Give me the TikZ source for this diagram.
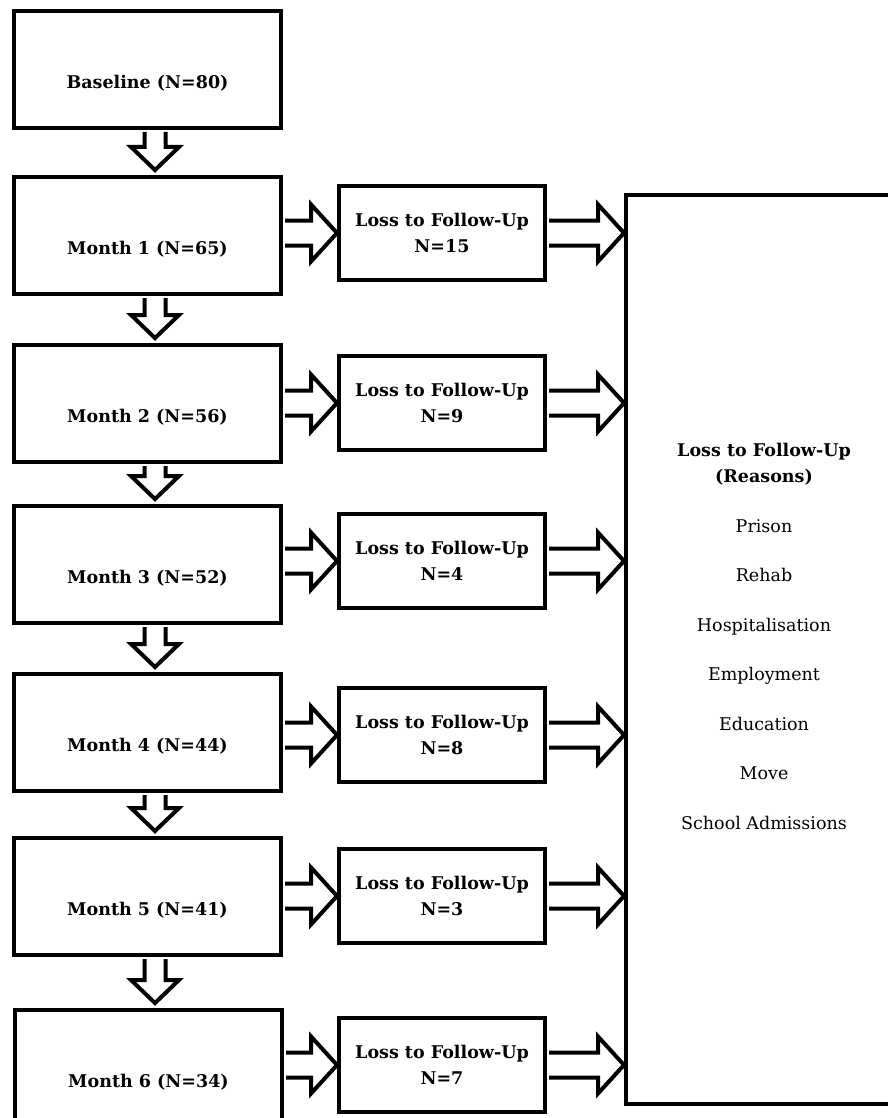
\documentclass[tikz,border=0pt]{standalone}
\usepackage{fontspec}
\setmainfont{DejaVu Serif}
\usetikzlibrary{calc}
\tikzset{
  box/.style={draw, line width=4pt, inner sep=0pt, font=\bfseries\fontsize{17.5}{26}\selectfont},
  monthbox/.style={box, minimum width=267pt, minimum height=117pt, text height=38pt, text depth=0pt},
  lossbox/.style={box, minimum width=206pt, minimum height=94pt, align=center},
  bigbox/.style={draw, line width=4pt, inner sep=0pt, minimum width=276pt, minimum height=909pt, font=\fontsize{17.5}{26}\selectfont},
  blk/.style={draw, line width=4pt, fill=white, line join=miter, miter limit=10},
}
\newcommand\downblock[2]{%
  \draw[blk] let \p1=($(#1.south)+(7.5,0)$), \p2=(#2.north) in
    (\x1-10.5pt,\y1-2pt) -- (\x1-10.5pt,\y2+28pt) -- (\x1-24pt,\y2+28pt) -- (\x1,\y2+5pt)
    -- (\x1+24pt,\y2+28pt) -- (\x1+10.5pt,\y2+28pt) -- (\x1+10.5pt,\y1-2pt);}
\newcommand\rightblock[3]{%
  \draw[blk] let \p1=(#1.east), \p2=(#2.west), \p3=(#3.center) in
    (\x1+2pt,\y3+12.5pt) -- (\x2-26pt,\y3+12.5pt) -- (\x2-26pt,\y3+28.5pt) -- (\x2,\y3)
    -- (\x2-26pt,\y3-28.5pt) -- (\x2-26pt,\y3-12.5pt) -- (\x1+2pt,\y3-12.5pt);}
\begin{document}
\begin{tikzpicture}[x=1pt,y=1pt]
\useasboundingbox (0,0) rectangle (887,-1118);
\fill[white] (0,0) rectangle (887,-1118);

\node[monthbox, anchor=north west] (b0) at (12,-9)   {Baseline (N=80)};
\node[monthbox, anchor=north west] (b1) at (12,-175) {Month 1 (N=65)};
\node[monthbox, anchor=north west] (b2) at (12,-343) {Month 2 (N=56)};
\node[monthbox, anchor=north west] (b3) at (12,-504) {Month 3 (N=52)};
\node[monthbox, anchor=north west] (b4) at (12,-672) {Month 4 (N=44)};
\node[monthbox, anchor=north west] (b5) at (12,-836) {Month 5 (N=41)};
\node[monthbox, anchor=north west] (b6) at (13,-1008) {Month 6 (N=34)};

\node[lossbox, anchor=north west] (l1) at (337,-184)  {Loss to Follow-Up\\N=15};
\node[lossbox, anchor=north west] (l2) at (337,-354)  {Loss to Follow-Up\\N=9};
\node[lossbox, anchor=north west] (l3) at (337,-512)  {Loss to Follow-Up\\N=4};
\node[lossbox, anchor=north west] (l4) at (337,-686)  {Loss to Follow-Up\\N=8};
\node[lossbox, anchor=north west] (l5) at (337,-847)  {Loss to Follow-Up\\N=3};
\node[lossbox, anchor=north west] (l6) at (337,-1016) {Loss to Follow-Up\\N=7};

\node[bigbox, anchor=north west] (big) at (624,-193) {\raisebox{11.5pt}[\height][\depth]{%
  \begin{tabular}{@{}c@{}}
  \textbf{Loss to Follow-Up}\\
  \textbf{(Reasons)}\\[23.5pt]
  Prison\\[23.5pt]
  Rehab\\[23.5pt]
  Hospitalisation\\[23.5pt]
  Employment\\[23.5pt]
  Education\\[23.5pt]
  Move\\[23.5pt]
  School Admissions
  \end{tabular}}};

\downblock{b0}{b1}
\downblock{b1}{b2}
\downblock{b2}{b3}
\downblock{b3}{b4}
\downblock{b4}{b5}
\downblock{b5}{b6}

\rightblock{b1}{l1}{l1}
\rightblock{b2}{l2}{l2}
\rightblock{b3}{l3}{l3}
\rightblock{b4}{l4}{l4}
\rightblock{b5}{l5}{l5}
\rightblock{b6}{l6}{l6}

\rightblock{l1}{big}{l1}
\rightblock{l2}{big}{l2}
\rightblock{l3}{big}{l3}
\rightblock{l4}{big}{l4}
\rightblock{l5}{big}{l5}
\rightblock{l6}{big}{l6}
\end{tikzpicture}
\end{document}
